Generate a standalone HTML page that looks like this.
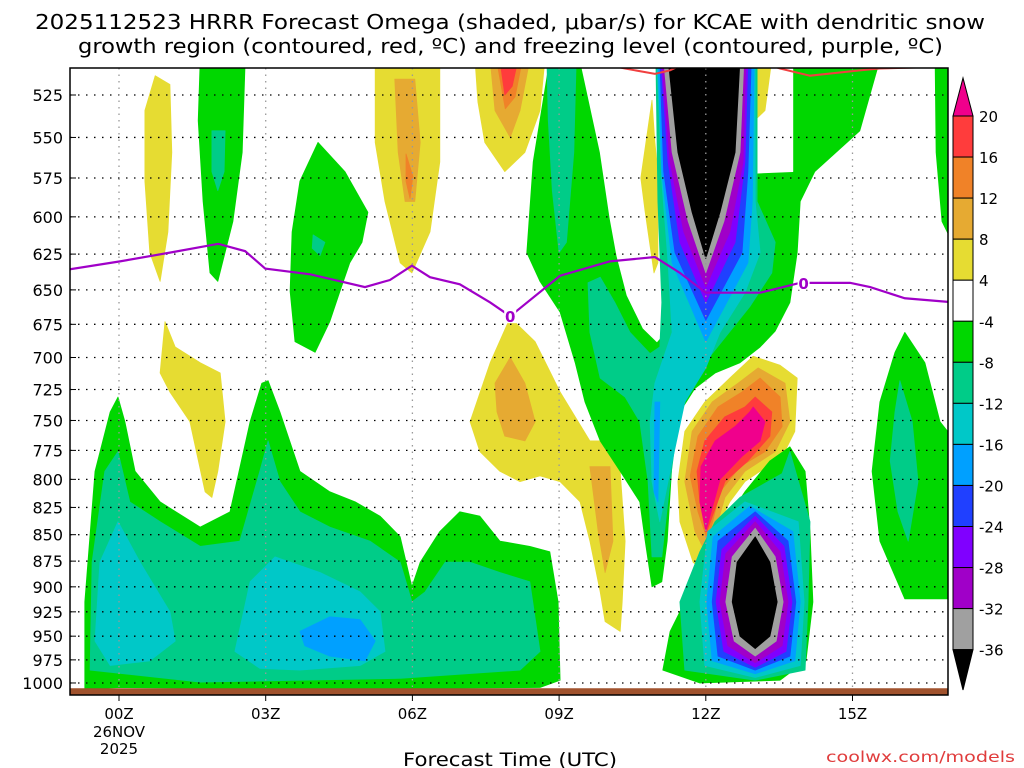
<!DOCTYPE html>
<html><head><meta charset="utf-8"><style>
html,body{margin:0;padding:0;background:#fff;}
svg{display:block;font-family:"DejaVu Sans","Liberation Sans",sans-serif;}
</style></head><body>
<svg id="chart" width="1024" height="768" viewBox="0 0 1024 768">
<text x="35" y="29" font-size="20" textLength="950" lengthAdjust="spacingAndGlyphs">2025112523 HRRR Forecast Omega (shaded, μbar/s) for KCAE with dendritic snow</text>
<text x="78" y="53" font-size="20" textLength="865" lengthAdjust="spacingAndGlyphs">growth region (contoured, red, ºC) and freezing level (contoured, purple, ºC)</text>
<text x="403" y="766" font-size="19" textLength="214" lengthAdjust="spacingAndGlyphs">Forecast Time (UTC)</text>
<text x="826" y="762" font-size="15" fill="#e03c3c" textLength="189" lengthAdjust="spacingAndGlyphs">coolwx.com/models</text>
<defs><clipPath id="pc"><rect x="70" y="68" width="878" height="627"/></clipPath></defs>
<g id="plot" clip-path="url(#pc)"></g>
<g id="axes"></g>
<g id="cbar"></g>
</svg>
<script>
const pressureTicks=[525,550,575,600,625,650,675,700,725,750,775,800,825,850,875,900,925,950,975,1000];
const hourTicks=[0,3,6,9,12,15];
const hourLabels=["00Z","03Z","06Z","09Z","12Z","15Z"];
const cbarLevels=[20,16,12,8,4,-4,-8,-12,-16,-20,-24,-28,-32,-36];
const cbarColors=["#ff3c3c","#f08228","#e6aa32","#e6dc32","#ffffff","#00d700","#00cc88","#00c8c8","#00a0ff","#2040ff","#8000ff","#a000c8","#a0a0a0"];
const C={y:"#e6dc32",lo:"#e6aa32",o:"#f08228",r:"#ff3c3c",pk:"#f0008c",w:"#ffffff",g:"#00d700",t:"#00cc88",c:"#00c8c8",lb:"#00a0ff",b:"#2040ff",v:"#8000ff",pu:"#a000c8",gr:"#a0a0a0",k:"#000000"};
const regions=[
["g","green-lowlevel",[[-0.7,1007],[-0.7,915],[-0.49,793],[-0.18,743],[-0.02,731],[0.12,751],[0.33,793],[0.84,820],[1.66,843],[2.27,829],[2.68,751],[2.92,720],[3.05,718],[3.29,743],[3.7,793],[4.31,811],[4.83,820],[5.34,833],[5.75,852],[5.99,900],[6.16,876],[6.56,847],[6.97,829],[7.38,833],[7.79,856],[8.4,861],[8.81,866],[8.98,915],[9.02,997],[8.61,1005],[3.7,1007],[0.02,1005]]],
["t","teal-lowlevel",[[-0.59,986],[-0.55,876],[-0.29,793],[-0.02,776],[0.22,820],[0.84,838],[1.66,861],[2.47,856],[2.88,793],[3.05,767],[3.29,802],[3.7,829],[4.31,843],[5.13,856],[5.75,876],[5.99,915],[6.26,905],[6.67,876],[7.18,876],[7.79,886],[8.4,895],[8.61,966],[8.2,986],[5.75,995],[1.66,999]]],
["c","cyan-lowlevel-left",[[-0.49,955],[-0.39,876],[-0.02,838],[0.43,876],[1.04,925],[1.15,955],[0.63,976],[-0.18,981]]],
["c","cyan-lowlevel-mid",[[2.37,966],[2.68,895],[3.19,871],[4.11,886],[4.93,905],[5.34,925],[5.44,966],[4.93,981],[3.7,986],[2.88,984]]],
["lb","lightblue-lowlevel",[[3.7,945],[4.31,930],[4.93,933],[5.24,955],[5.03,976],[4.31,971],[3.8,960]]],
["g","green-upper-stripe",[[1.66,505],[2.58,505],[2.52,559],[2.33,603],[2.02,644],[1.86,638],[1.72,590],[1.62,540]]],
["t","teal-upper-stripe",[[1.9,546],[2.17,546],[2.15,571],[2.02,583],[1.9,571]]],
["g","green-upper-mid",[[4.07,553],[4.62,571],[5.09,597],[4.97,617],[4.72,631],[4.52,651],[4.31,673],[4.01,696],[3.6,688],[3.5,651],[3.54,610],[3.7,577]]],
["t","teal-upper-mid",[[3.97,612],[4.21,617],[4.11,626],[3.95,621]]],
["y","yellow-upper-left",[[0.74,514],[1.04,519],[1.08,559],[1.0,610],[0.84,644],[0.63,624],[0.53,577],[0.53,534]]],
["y","yellow-mid-left",[[0.94,673],[1.15,692],[1.66,704],[2.07,712],[2.17,751],[2.02,793],[1.9,816],[1.76,811],[1.45,751],[1.04,727],[0.84,712]]],
["y","yellow-upper-06z",[[5.24,505],[6.56,505],[6.56,565],[6.36,610],[5.99,638],[5.75,631],[5.44,590],[5.24,553]]],
["lo","ltorange-upper-06z",[[5.64,516],[6.05,516],[6.16,553],[6.05,590],[5.85,590],[5.71,559]]],
["o","orange-upper-06z",[[5.87,560],[6.01,574],[5.95,588],[5.87,577]]],
["y","yellow-upper-08z",[[7.28,505],[8.71,505],[8.61,534],[8.3,559],[7.89,571],[7.48,553],[7.34,529]]],
["lo","ltorange-upper-08z",[[7.59,505],[8.4,505],[8.2,534],[8.0,550],[7.69,534]]],
["o","orange-upper-08z",[[7.72,505],[8.25,505],[8.1,526],[7.9,533]]],
["r","red-upper-08z",[[7.79,505],[8.16,505],[8.04,520],[7.89,525]]],
["y","yellow-mid-08z",[[7.18,751],[7.59,704],[8.0,670],[8.51,688],[9.02,727],[9.63,767],[9.94,767],[10.25,793],[10.35,856],[10.29,915],[10.25,945],[9.94,935],[9.84,905],[9.63,856],[9.43,820],[9.02,802],[8.61,797],[8.2,802],[7.79,793],[7.38,776]]],
["lo","ltorange-mid-08z",[[7.69,720],[8.0,700],[8.3,720],[8.51,751],[8.3,767],[7.89,763],[7.73,743]]],
["lo","ltorange-mid-10z",[[9.63,789],[10.04,789],[10.1,856],[9.94,886],[9.8,847]]],
["g","green-central",[[8.81,505],[15.56,505],[15.15,546],[14.23,571],[13.93,590],[13.87,624],[13.72,659],[13.42,680],[13.11,692],[12.7,704],[12.19,712],[11.78,724],[11.47,743],[11.31,784],[11.21,856],[11.1,895],[10.9,900],[10.76,856],[10.65,820],[10.25,793],[9.84,767],[9.53,735],[9.33,704],[9.02,666],[8.61,644],[8.34,624],[8.47,565]]],
["w","gap-central",[[9.43,505],[9.84,559],[10.04,601],[10.18,626],[10.39,654],[10.72,678],[11.0,688],[11.21,679],[11.17,624],[11.06,505]]],
["w","gap-13z",[[12.97,505],[13.78,505],[13.78,571],[13.01,572]]],
["y","yellow-13z",[[13.01,505],[13.35,505],[13.21,534],[13.03,539]]],
["y","yellow-sliver-11z",[[10.9,528],[10.96,553],[11.02,571],[11.02,631],[10.94,638],[10.76,597],[10.67,575]]],
["t","teal-09z-stripe",[[8.75,505],[9.35,505],[9.3,559],[9.15,617],[9.0,624],[8.86,583],[8.78,540]]],
["t","teal-column",[[10.98,505],[13.05,505],[13.05,590],[13.42,617],[13.35,638],[12.9,662],[12.39,685],[11.98,704],[11.68,724],[11.43,751],[11.27,802],[11.1,871],[10.9,871],[10.82,802],[10.65,751],[10.35,731],[9.84,716],[9.63,681],[9.59,645],[9.84,641],[10.14,659],[10.45,681],[10.86,697],[11.06,692],[11.1,659],[11.02,590]]],
["c","cyan-column",[[11.0,505],[13.01,505],[13.01,590],[13.11,624],[12.8,652],[12.29,681],[12.0,708],[11.57,735],[11.27,793],[11.06,838],[10.9,802],[10.86,751],[10.96,720],[11.31,681],[11.23,631],[11.1,577]]],
["lb","lightblue-column",[[11.02,505],[12.99,505],[12.95,590],[12.86,631],[12.0,688],[11.31,631],[11.1,571]]],
["lb","lightblue-sliver",[[10.96,735],[11.06,735],[11.02,820],[10.94,811]]],
["b","blue-column",[[11.06,505],[12.93,505],[12.86,571],[12.74,624],[12.0,672],[11.37,624],[11.14,571]]],
["v","violet-column",[[11.08,505],[12.86,505],[12.8,565],[12.6,617],[12.0,659],[11.47,617],[11.23,565]]],
["pu","purple-column",[[11.1,505],[12.82,505],[12.76,565],[12.49,610],[12.0,648],[11.55,610],[11.27,565]]],
["gr","grey-column",[[11.14,505],[12.78,505],[12.7,559],[12.37,603],[12.0,638],[11.64,603],[11.31,559]]],
["k","black-column",[[11.23,505],[12.7,505],[12.6,559],[12.29,597],[12.0,628],[11.72,597],[11.43,559]]],
["y","yellow-12z",[[12.97,699],[13.52,706],[13.87,716],[13.82,759],[13.52,784],[13.11,793],[12.8,802],[12.49,820],[12.19,847],[11.98,886],[11.74,876],[11.47,838],[11.43,802],[11.57,759],[11.98,735],[12.49,716]]],
["lo","ltorange-12z",[[13.07,708],[13.62,720],[13.72,751],[13.42,776],[12.8,793],[12.39,816],[12.04,871],[11.78,847],[11.57,802],[11.72,759],[12.13,735],[12.66,720]]],
["o","orange-12z",[[13.11,716],[13.52,731],[13.56,755],[13.21,776],[12.7,789],[12.29,811],[12.04,856],[11.84,829],[11.68,797],[11.84,763],[12.25,739],[12.74,727]]],
["r","red-12z",[[13.01,731],[13.35,743],[13.31,763],[12.86,784],[12.39,802],[12.02,847],[11.88,820],[11.82,793],[11.98,767],[12.39,747],[12.8,739]]],
["pk","pink-12z",[[12.97,739],[13.21,751],[13.11,767],[12.74,780],[12.29,800],[12.0,847],[11.88,820],[11.9,789],[12.19,767],[12.6,755],[12.9,743]]],
["g","green-13z-low",[[12.8,811],[13.31,784],[13.72,772],[14.03,793],[14.13,847],[14.19,915],[14.05,976],[13.52,997],[11.88,1000],[11.12,986],[11.27,945],[11.57,915],[11.98,905],[12.29,876],[12.39,838]]],
["t","teal-13z-low",[[12.7,816],[13.56,795],[13.72,776],[14.13,838],[14.09,915],[14.03,986],[13.01,997],[11.57,986],[11.47,915],[11.88,866],[12.19,838]]],
["c","cyan-13z-low",[[12.8,820],[13.89,838],[14.01,915],[13.93,981],[13.01,994],[11.98,981],[11.88,915],[12.04,847]]],
["lb","lightblue-13z-low",[[12.9,824],[13.78,847],[13.93,915],[13.82,976],[13.01,990],[12.13,976],[12.02,915],[12.15,852]]],
["b","blue-13z-low",[[13.01,829],[13.68,856],[13.84,915],[13.72,971],[13.01,986],[12.25,971],[12.13,915],[12.25,856]]],
["v","violet-13z-low",[[13.01,833],[13.6,861],[13.76,915],[13.64,966],[13.01,983],[12.37,966],[12.21,915],[12.33,864]]],
["pu","purple-13z-low",[[13.01,838],[13.52,866],[13.68,915],[13.56,960],[13.01,978],[12.45,960],[12.29,915],[12.41,868]]],
["gr","grey-13z-low",[[13.01,844],[13.42,871],[13.58,915],[13.44,955],[13.01,971],[12.58,955],[12.41,915],[12.54,871]]],
["k","black-13z-low",[[13.01,852],[13.31,876],[13.46,915],[13.31,950],[13.01,963],[12.7,950],[12.54,915],[12.64,876]]],
["g","green-16z",[[16.07,681],[16.48,704],[16.79,751],[17.1,767],[17.1,912],[16.07,912],[15.56,856],[15.4,793],[15.56,735],[15.87,696]]],
["t","teal-16z",[[15.97,718],[16.22,751],[16.34,802],[16.14,856],[15.93,829],[15.77,784],[15.87,743]]],
["g","green-17z-top",[[16.69,505],[17.1,505],[17.1,621],[16.83,603],[16.71,559]]]
];
const frzHours=[-1.1,0.02,1.04,2.03,2.58,2.99,3.91,5.03,5.54,5.99,6.36,6.97,7.59,8.0,9.02,10.04,10.96,11.47,12.0,13.11,13.93,14.95,15.36,16.07,17.1];
const frzPres=[636,630,624,618,623,635,639,648,643,633,641,646,659,669,640,630,627,638,652,652,645,645,648,656,659];
const dgzHours=[[10.0,10.35,10.96,11.27,11.5],[13.3,13.52,14.13,15.15,15.56,16.83,17.1]];
const dgzPres=[[508,510,513,511,508],[508,510,514,511,510,509,509]];
const surfacePres=1008;
const NS="http://www.w3.org/2000/svg";
const X=h=>119+h*48.9;
const Y=p=>95+(Math.log(p)-Math.log(525))*912.5;
function mk(tag,attrs,parent){const e=document.createElementNS(NS,tag);for(const k in attrs)e.setAttribute(k,attrs[k]);parent.appendChild(e);return e;}
const plot=document.getElementById('plot'),axes=document.getElementById('axes'),cbar=document.getElementById('cbar');
regions.forEach(r=>{
  const d=r[2].map((pt,i)=>(i?'L':'M')+X(pt[0]).toFixed(1)+' '+Y(pt[1]).toFixed(1)).join(' ')+'Z';
  const e=mk('path',{d:d,fill:C[r[0]],stroke:C[r[0]],'stroke-width':0.8,'stroke-linejoin':'round'},plot);
  
  
});
pressureTicks.forEach(p=>{
  const g=mk('line',{x1:70,x2:948,y1:Y(p),y2:Y(p),stroke:'#000','stroke-width':1.3,'stroke-dasharray':'1.5 6.5'},plot);
  
  
});
hourTicks.forEach(h=>{
  const g=mk('line',{x1:X(h),x2:X(h),y1:68,y2:695,stroke:'#999','stroke-width':1.3,'stroke-dasharray':'1.5 5'},plot);
  
  
});
dgzHours.forEach((hs,j)=>{
  const e=mk('polyline',{points:hs.map((h,i)=>X(h)+','+Y(dgzPres[j][i])).join(' '),fill:'none',stroke:'#f04040','stroke-width':2},plot);
  
  
});
const fl=mk('polyline',{points:frzHours.map((h,i)=>X(h)+','+Y(frzPres[i])).join(' '),fill:'none',stroke:'#a000c8','stroke-width':2.2},plot);


[[8.0,669],[14.0,645]].forEach(pt=>{
  const bg=mk('rect',{x:X(pt[0])-6,y:Y(pt[1])-8,width:12,height:15,fill:'#fff'},plot);
  
  
  const t=mk('text',{x:X(pt[0]),y:Y(pt[1])+6,'font-size':15,'font-weight':'bold',fill:'#a000c8','text-anchor':'middle'},plot);
  t.textContent='0';
  
  
});
const gr=mk('rect',{x:70,y:Y(surfacePres)-2,width:878,height:10,fill:'#a0522d'},plot);


const fr=mk('rect',{x:70,y:68,width:878,height:627,fill:'none',stroke:'#000','stroke-width':1.5},axes);


pressureTicks.forEach(p=>{
  const t=mk('text',{x:63,y:Y(p)+6,'font-size':16,'text-anchor':'end',fill:'#000'},axes);
  t.textContent=p;
  
  
  const tk=mk('line',{x1:70,x2:76,y1:Y(p),y2:Y(p),stroke:'#000'},axes);
  
  
});
hourTicks.forEach((h,i)=>{
  const t=mk('text',{x:X(h),y:719,'font-size':15,'text-anchor':'middle'},axes);
  t.textContent=hourLabels[i];
  
  
  const tk=mk('line',{x1:X(h),x2:X(h),y1:695,y2:701,stroke:'#000'},axes);
  
  
});
['26NOV','2025'].forEach((s,i)=>{
  const t=mk('text',{x:X(0),y:737+i*17,'font-size':15,'text-anchor':'middle'},axes);
  t.textContent=s;
  
  
});
const bounds=cbarLevels.map((v,i)=>116+i*41.05);
cbarColors.forEach((col,i)=>{
  const r=mk('rect',{x:953,y:bounds[i],width:20,height:bounds[i+1]-bounds[i],fill:col,stroke:'#000','stroke-width':1},cbar);
  
  
});
const tt=mk('polygon',{points:'953,116 973,116 963,78',fill:'#f0008c',stroke:'#000'},cbar);


const tb=mk('polygon',{points:`953,${bounds[13]} 973,${bounds[13]} 963,690`,fill:'#000',stroke:'#000'},cbar);


cbarLevels.forEach((v,i)=>{
  const t=mk('text',{x:979,y:bounds[i]+6,'font-size':15},cbar);
  t.textContent=v;
  
  
});
</script>
</body></html>
